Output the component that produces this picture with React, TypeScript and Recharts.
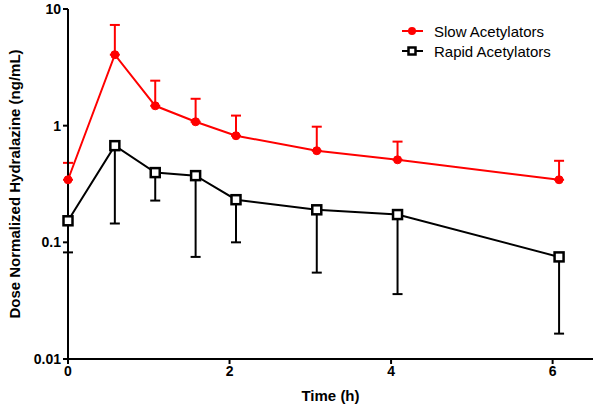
import React from 'react';
import { ComposedChart, Line, XAxis, YAxis, ErrorBar } from 'recharts';

const times = [0, 0.58, 1.08, 1.58, 2.08, 3.08, 4.08, 6.08];
const slowMean = [0.344, 4.06, 1.48, 1.08, 0.82, 0.61, 0.51, 0.344];
const slowUpper = [0.48, 7.3, 2.43, 1.7, 1.22, 0.98, 0.73, 0.5];
const rapidMean = [0.153, 0.674, 0.396, 0.373, 0.232, 0.19, 0.173, 0.075];
const rapidLower = [0.082, 0.145, 0.228, 0.075, 0.1, 0.055, 0.036, 0.0165];
const xTicks = [0, 2, 4, 6];
const yTicks = [0.01, 0.1, 1, 10];

const data = times.map((t, i) => ({
  t,
  slow: slowMean[i],
  slowErr: [0, slowUpper[i] - slowMean[i]],
  rapid: rapidMean[i],
  rapidErr: [rapidMean[i] - rapidLower[i], 0],
}));

const FONT = '"Liberation Sans", Arial, sans-serif';
const RED = '#ff0000';

const SquareDot = (props: any) => {
  const { cx, cy, index } = props;
  if (cx == null || cy == null) return null;
  return (
    <rect key={`sq-${index}`} x={cx - 4.5} y={cy - 4.5} width={9} height={9}
      fill="#fff" stroke="#000" strokeWidth={2.5} />
  );
};

// legend drawn as an overlay so it doesn't push the plot area down
const LegendBox = () => (
  <div style={{ position: 'absolute', left: 400, top: 21, fontFamily: FONT, fontSize: 15, color: '#000' }}>
    <div style={{ display: 'flex', alignItems: 'center', height: 20 }}>
      <svg width={25} height={12}>
        <line x1={2} y1={6} x2={23} y2={6} stroke={RED} strokeWidth={2} />
        <circle cx={12} cy={6} r={4} fill={RED} />
      </svg>
      <span style={{ marginLeft: 9 }}>Slow Acetylators</span>
    </div>
    <div style={{ display: 'flex', alignItems: 'center', height: 20 }}>
      <svg width={25} height={12}>
        <line x1={2} y1={6} x2={23} y2={6} stroke="#000" strokeWidth={2} />
        <rect x={8.5} y={2.5} width={7} height={7} fill="#fff" stroke="#000" strokeWidth={2.5} />
      </svg>
      <span style={{ marginLeft: 9 }}>Rapid Acetylators</span>
    </div>
  </div>
);

const App: React.FC = () => {
  const tickStyle = { fontFamily: FONT, fontSize: 14, fontWeight: 'bold', fill: '#000' };
  return (
    <div style={{ position: 'absolute', left: 0, top: 0, width: 600, height: 408, background: '#fff' }}>
      <ComposedChart width={600} height={408} data={data}
        margin={{ top: 9, right: 7, left: 0, bottom: 0 }}>
        <XAxis dataKey="t" type="number" domain={[0, 6.5]} ticks={xTicks}
          axisLine={{ stroke: '#000', strokeWidth: 2 }}
          tickLine={{ stroke: '#000', strokeWidth: 2 }} tickSize={5}
          tick={tickStyle} height={49}
          label={{ value: 'Time (h)', position: 'insideBottom', offset: 7,
            style: { fontFamily: FONT, fontSize: 15, fontWeight: 'bold', fill: '#000' } }} />
        <YAxis type="number" scale="log" domain={[0.01, 10]} ticks={yTicks}
          allowDataOverflow width={68}
          axisLine={{ stroke: '#000', strokeWidth: 2 }}
          tickLine={{ stroke: '#000', strokeWidth: 2 }} tickSize={5}
          tick={tickStyle}
          label={{ value: 'Dose Normalized Hydralazine (ng/mL)', angle: -90,
            position: 'insideLeft', offset: 15,
            style: { textAnchor: 'middle', fontFamily: FONT, fontSize: 15, fontWeight: 'bold', fill: '#000' } }} />
        <Line dataKey="slow" stroke={RED} strokeWidth={2} isAnimationActive={false}
          dot={{ r: 4, fill: RED, stroke: RED, strokeWidth: 1 }} activeDot={false}>
          <ErrorBar dataKey="slowErr" direction="y" width={5} stroke={RED} strokeWidth={2} />
        </Line>
        <Line dataKey="rapid" stroke="#000" strokeWidth={2} isAnimationActive={false}
          dot={SquareDot} activeDot={false}>
          <ErrorBar dataKey="rapidErr" direction="y" width={5} stroke="#000" strokeWidth={2} />
        </Line>
      </ComposedChart>
      <LegendBox />
    </div>
  );
};

export default App;
